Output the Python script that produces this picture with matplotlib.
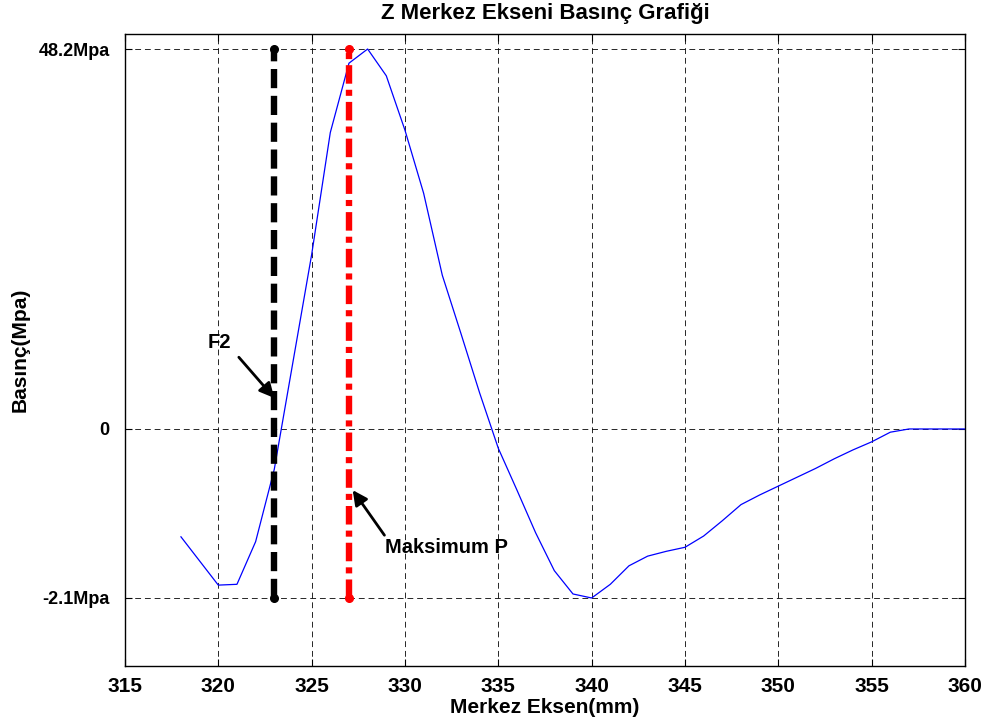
import numpy as np
import matplotlib
matplotlib.use("Agg")
import matplotlib.pyplot as plt

# Pressure along the Z centre axis
x_mm = [318, 319, 320, 321, 322, 323, 324, 325, 326, 327, 328, 329, 330,
        331, 332, 333, 334, 335, 336, 337, 338, 339, 340, 341, 342, 343,
        344, 345, 346, 347, 348, 349, 350, 351, 352, 353, 354, 355, 356,
        357, 358, 359, 360]
p_mpa = [-1.34, -1.64, -1.94, -1.93, -1.40, -0.50, 8.50, 22.1, 37.6, 46.4,
         48.2, 44.8, 37.9, 29.9, 19.5, 12.1, 4.57, -0.24, -0.76, -1.29,
         -1.76, -2.05, -2.10, -1.93, -1.70, -1.58, -1.52, -1.47, -1.33,
         -1.14, -0.94, -0.82, -0.71, -0.60, -0.49, -0.37, -0.26, -0.16,
         -0.04, 0.0, 0.0, 0.0, 0.0]

# Marker lines
f2_x = 323
pmax_x = 327
p_low = -2.1
p_high = 48.2

y_ticks = [-2.1, 0, 48.2]
y_ticklabels = ['-2.1Mpa', '0', '48.2Mpa']
x_ticks = [315, 320, 325, 330, 335, 340, 345, 350, 355, 360]

plt.rcParams['font.family'] = ['Liberation Sans', 'DejaVu Sans']
plt.rcParams['font.weight'] = 'bold'

# negative pressures are stretched so the suction zone stays readable
NEG_GAIN = 10.21


def fwd(y):
    y = np.asarray(y, dtype=float)
    return np.where(y < 0, y * NEG_GAIN, y)


def inv(y):
    y = np.asarray(y, dtype=float)
    return np.where(y < 0, y / NEG_GAIN, y)


fig = plt.figure(figsize=(9.87, 7.27), dpi=100)
ax = fig.add_axes([0.1266, 0.0839, 0.8511, 0.8693])
ax.set_yscale('function', functions=(fwd, inv))

ax.plot(x_mm, p_mpa, color='#0000ff', lw=0.9, zorder=3)

ax.plot([f2_x, f2_x], [p_low, p_high], color='black', lw=4.6,
        linestyle=(0, (3.0, 1.2)), dash_capstyle='butt',
        marker='o', ms=5.5, zorder=4)
ax.plot([pmax_x, pmax_x], [p_low, p_high], color='red', lw=4.6,
        linestyle=(0, (2.9, 0.95, 0.95, 0.95)), dash_capstyle='butt',
        marker='o', ms=5.5, zorder=4)

arrow = dict(arrowstyle='-|>', color='black', lw=2.0, mutation_scale=22,
             shrinkA=0, shrinkB=0)
ax.annotate('', xy=(323.0, 3.93), xytext=(321.1, 9.1), arrowprops=arrow,
            zorder=5)
ax.text(320.05, 11.0, 'F2', fontsize=14.5, fontweight='bold',
        ha='center', va='center')
ax.annotate('', xy=(327.2, -0.76), xytext=(328.9, -1.32), arrowprops=arrow,
            zorder=5)
ax.text(328.95, -1.47, 'Maksimum P', fontsize=14.5, fontweight='bold',
        ha='left', va='center')

ax.set_xlim(315, 360)
ax.set_ylim(-2.945, 50.1)
ax.set_xticks(x_ticks)
ax.set_yticks(y_ticks)
ax.set_yticklabels(y_ticklabels)
ax.minorticks_off()
ax.tick_params(direction='in', top=True, right=True, length=5, width=0.8)
ax.tick_params(axis='y', labelsize=13, pad=11)
ax.tick_params(axis='x', labelsize=15, pad=8)
for lab in ax.get_xticklabels() + ax.get_yticklabels():
    lab.set_fontweight('bold')

ax.grid(True, color='black', lw=0.7, linestyle=(0, (6, 4)), alpha=0.85)
for s in ax.spines.values():
    s.set_linewidth(1.0)

ax.set_title('Z Merkez Ekseni Basınç Grafiği', fontsize=16,
             fontweight='bold', pad=11)
ax.set_xlabel('Merkez Eksen(mm)', fontsize=15, fontweight='bold', labelpad=1)
ax.set_ylabel('Basınç(Mpa)', fontsize=15, fontweight='bold', labelpad=6)

fig.savefig('out.png', dpi=100)
